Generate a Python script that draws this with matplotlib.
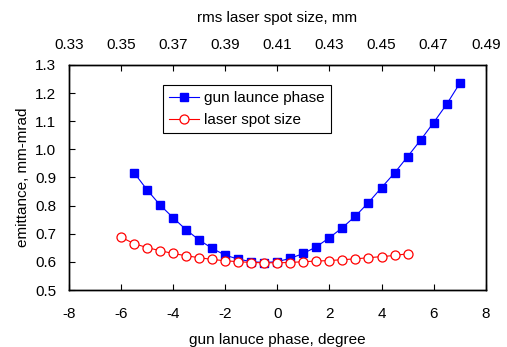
import numpy as np
import matplotlib
matplotlib.use('Agg')
import matplotlib.pyplot as plt

plt.rcParams['font.family'] = ['Liberation Sans', 'DejaVu Sans']
plt.rcParams['font.size'] = 11
plt.rcParams['axes.unicode_minus'] = False

# gun launch phase scan (bottom axis)
phase = [-5.5, -5.0, -4.5, -4.0, -3.5, -3.0, -2.5, -2.0, -1.5, -1.0, -0.5, 0.0, 0.5,
         1.0, 1.5, 2.0, 2.5, 3.0, 3.5, 4.0, 4.5, 5.0, 5.5, 6.0, 6.5, 7.0]
emit_phase = [0.917, 0.856, 0.802, 0.757, 0.714, 0.678, 0.648, 0.624, 0.610, 0.601,
              0.598, 0.601, 0.613, 0.630, 0.654, 0.686, 0.722, 0.763, 0.811, 0.864,
              0.916, 0.974, 1.033, 1.095, 1.160, 1.234]

# laser spot size scan (top axis)
spot = [0.350, 0.355, 0.360, 0.365, 0.370, 0.375, 0.380, 0.385, 0.390, 0.395, 0.400,
        0.405, 0.410, 0.415, 0.420, 0.425, 0.430, 0.435, 0.440, 0.445, 0.450, 0.455, 0.460]
emit_spot = [0.688, 0.665, 0.651, 0.640, 0.630, 0.622, 0.615, 0.609, 0.604, 0.601, 0.598,
             0.597, 0.597, 0.598, 0.601, 0.603, 0.605, 0.608, 0.611, 0.615, 0.619, 0.623, 0.629]

fig = plt.figure(figsize=(5.07, 3.47), dpi=100)
ax = fig.add_axes([0.136, 0.164, 0.822, 0.649])
ax2 = ax.twiny()

l1, = ax.plot(phase, emit_phase, color='blue', lw=0.8, marker='s', ms=6,
              mfc='blue', mec='blue', label='gun launce phase')
l2, = ax2.plot(spot, emit_spot, color='red', lw=0.8, marker='o', ms=6.5,
               mfc='white', mec='red', mew=0.9, label='laser spot size')

ax.set_xlim(-8, 8)
ax.set_ylim(0.5, 1.3)
ax.set_xticks(np.arange(-8, 9, 2))
ax.set_yticks(np.arange(0.5, 1.31, 0.1))
ax.set_yticklabels(['%.1f' % v for v in np.arange(0.5, 1.31, 0.1)])
ax2.set_xlim(0.33, 0.49)
ax2.set_xticks(np.arange(0.33, 0.491, 0.02))
ax2.set_xticklabels(['%.2f' % v for v in np.arange(0.33, 0.491, 0.02)])

for a in (ax, ax2):
    a.tick_params(direction='in', length=4, width=0.8)
    for s in a.spines.values():
        s.set_linewidth(1.0)
ax.tick_params(axis='x', pad=12)
ax.tick_params(axis='y', pad=9)
ax2.tick_params(axis='x', pad=9.5)

ax.set_xlabel('gun lanuce phase, degree', labelpad=9)
ax.set_ylabel('emittance, mm-mrad', labelpad=4)
ax2.set_xlabel('rms laser spot size, mm', labelpad=11)

leg = ax.legend(handles=[l1, l2], loc='upper left', bbox_to_anchor=(0.225, 0.91),
                fancybox=False, framealpha=1, edgecolor='black', borderpad=0.4,
                handlelength=2.0, handletextpad=0.3, labelspacing=0.5, borderaxespad=0)
leg.get_frame().set_linewidth(0.8)

fig.savefig('out.png', dpi=100)
